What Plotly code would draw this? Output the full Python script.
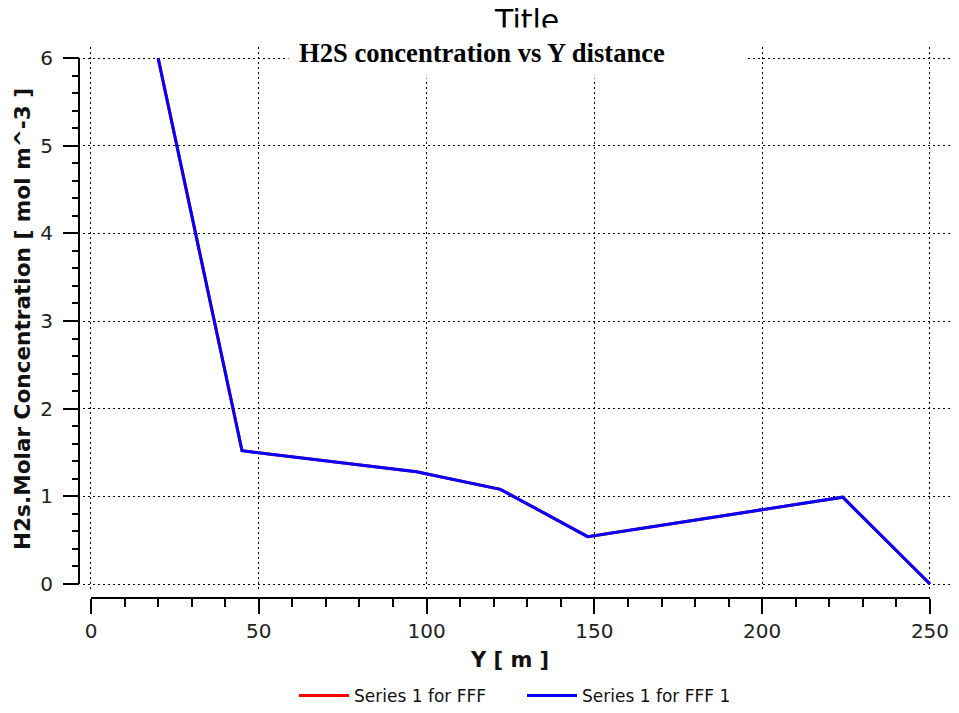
import plotly.graph_objects as go

# Data
y_dist = [20, 45, 97, 122, 148, 224, 250]
h2s_conc = [6.0, 1.52, 1.28, 1.08, 0.54, 0.99, 0.0]
series_names = ["Series 1 for FFF", "Series 1 for FFF 1"]
series_colors = ["#FF0000", "#0000FF"]
x_ticks = [0, 50, 100, 150, 200, 250]
y_ticks = [0, 1, 2, 3, 4, 5, 6]
x_axis_span = [0, 250]
y_axis_span = [0, 6]
# grid area extends a little beyond the axis spans, as in the reference
x_range = [-2.38, 256.26]
y_range = [-0.057, 6.1255]

# page has an 8px body margin: figure is placed at (8, 8)
OFF = 8
W, H = 959 - 2 * OFF, 713 - 2 * OFF
PAGE_L, PAGE_R, PAGE_T, PAGE_B = 79, 951, 47, 598
L, R, T, B = PAGE_L - OFF, W - (PAGE_R - OFF), PAGE_T - OFF, H - (PAGE_B - OFF)
PW, PH = W - L - R, H - T - B


def px_x(p):
    """page x pixel -> paper fraction"""
    return (p - PAGE_L) / PW


def px_y(p):
    """page y pixel -> paper fraction"""
    return (PAGE_B - p) / PH


fig = go.Figure()
for name, col in zip(series_names, series_colors):
    fig.add_trace(go.Scatter(
        x=y_dist, y=h2s_conc, mode="lines", name=name,
        line=dict(color=col, width=3),
    ))

sans = "DejaVu Sans"
grid = dict(showgrid=True, gridcolor="black", gridwidth=1, griddash="2px,3px", zeroline=False)
tickstyle = dict(ticks="outside", tickwidth=2, tickcolor="black", showline=False,
                 tickfont=dict(family=sans, size=20, color="#222"), automargin=False)

fig.update_layout(
    width=W, height=H,
    margin=dict(l=L, r=R, t=T, b=B, pad=0, autoexpand=False),
    paper_bgcolor="white", plot_bgcolor="white",
    showlegend=True,
    legend=dict(
        orientation="h", x=px_x(294), xanchor="left", y=px_y(696), yanchor="middle",
        font=dict(family=sans, size=17, color="#111"),
        entrywidth=163, entrywidthmode="pixels", itemwidth=50,
        bgcolor="rgba(0,0,0,0)", borderwidth=0,
    ),
    xaxis=dict(
        domain=[(83 - PAGE_L) / PW, 1], anchor="free", position=0,
        range=x_range, tickmode="array", tickvals=x_ticks,
        ticklen=15,
        minor=dict(dtick=10, ticks="outside", ticklen=8, tickwidth=2, tickcolor="black", showgrid=False),
        ticklabelstandoff=0, **grid, **tickstyle,
    ),
    yaxis=dict(
        domain=[(PAGE_B - 589) / PH, 1], anchor="free", position=0,
        range=y_range, tickmode="array", tickvals=y_ticks,
        ticklen=16,
        minor=dict(dtick=0.2, ticks="outside", ticklen=7, tickwidth=2, tickcolor="black", showgrid=False),
        ticklabelstandoff=6, **grid, **tickstyle,
    ),
    shapes=[
        # axis lines (offset from the plot area, as in the reference)
        dict(type="line", xref="x", yref="paper", x0=x_axis_span[0], x1=x_axis_span[1], y0=0, y1=0,
             line=dict(color="black", width=2)),
        dict(type="line", xref="paper", yref="y", x0=0, x1=0, y0=y_axis_span[0], y1=y_axis_span[1],
             line=dict(color="black", width=2)),
    ],
    annotations=[
        dict(text="Title", xref="paper", yref="paper", x=px_x(526), y=px_y(20),
             xanchor="center", yanchor="middle", showarrow=False,
             font=dict(family=sans, size=30, color="black")),
        dict(text="<b>H2S concentration vs Y distance</b>", xref="paper", yref="paper",
             x=px_x(288), y=px_y(26.5), xanchor="left", yanchor="top",
             width=437, height=30, borderpad=10, align="left", valign="middle",
             bgcolor="white", showarrow=False,
             font=dict(family="Liberation Serif", size=26.6, color="black")),
        dict(text="<b>H2s.Molar Concentration [ mol m^-3 ]</b>", xref="paper", yref="paper",
             x=px_x(22), y=px_y(319), xanchor="center", yanchor="middle",
             textangle=-90, showarrow=False,
             font=dict(family=sans, size=21.6, color="#111")),
        dict(text="<b>Y [ m ]</b>", xref="paper", yref="paper",
             x=px_x(509), y=px_y(660), xanchor="center", yanchor="middle",
             showarrow=False, font=dict(family=sans, size=21, color="#111")),
    ],
)

fig.write_html("out.html")
